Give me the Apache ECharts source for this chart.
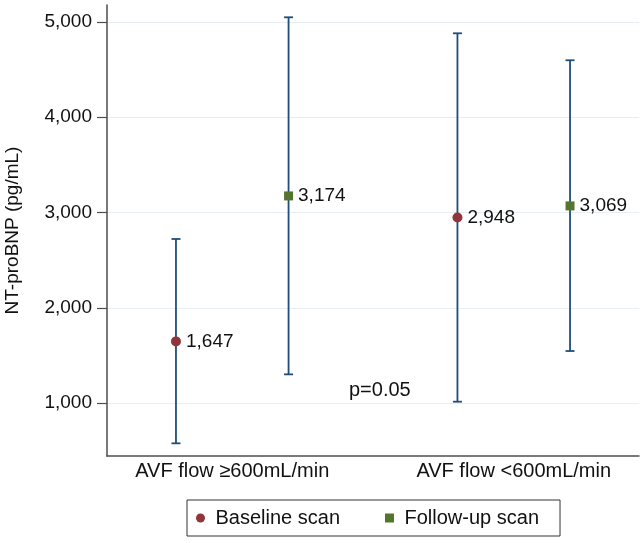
<!DOCTYPE html>
<html>
<head>
<meta charset="utf-8">
<script src="https://cdn.jsdelivr.net/npm/echarts@6/dist/echarts.min.js"></script>
<style>
  html, body { margin: 0; padding: 0; background: #fff; }
  #chart { width: 644px; height: 543px; }
</style>
</head>
<body>
<div id="chart"></div>
<script>
// groups on the x axis
let groups = ['AVF flow \u2265600mL/min', 'AVF flow <600mL/min'];
let yTicks = [1000, 2000, 3000, 4000, 5000];

// baseline scan: mean and 95% CI
let baseMean = [1647, 2948];
let baseLow = [577, 1014];
let baseHigh = [2722, 4881];

// follow-up scan: mean and 95% CI
let followMean = [3174, 3069];
let followLow = [1301, 1546];
let followHigh = [5049, 4598];

let pText = 'p=0.05';

let shift = 0.2; // side offset of each scan inside a group
let font = 'Liberation Sans, Arial, Helvetica, sans-serif';
let barColor = '#1f4e7a';

let fmt = v => Number(v).toLocaleString('en-US');

let makeErr = (lo, hi, off) => groups.map((g, i) => [i + off, lo[i], hi[i]]);
let makePts = (m, off) => groups.map((g, i) => [i + off, m[i]]);

let renderErr = function (params, api) {
  let x = api.value(0);
  let top = api.coord([x, api.value(2)]);
  let bot = api.coord([x, api.value(1)]);
  let cap = 4.5;
  let style = { stroke: barColor, lineWidth: 1.8 };
  return {
    type: 'group',
    children: [
      { type: 'line', shape: { x1: top[0], y1: top[1], x2: bot[0], y2: bot[1] }, style: style },
      { type: 'line', shape: { x1: top[0] - cap, y1: top[1], x2: top[0] + cap, y2: top[1] }, style: style },
      { type: 'line', shape: { x1: bot[0] - cap, y1: bot[1], x2: bot[0] + cap, y2: bot[1] }, style: style }
    ]
  };
};

let ptLabel = {
  show: true,
  position: 'right',
  distance: 5,
  fontSize: 19,
  fontFamily: font,
  color: '#111',
  formatter: p => fmt(p.value[1])
};

let chart = echarts.init(document.getElementById('chart'));
let option = {
  animation: false,
  backgroundColor: '#fff',
  textStyle: { fontFamily: font },
  grid: { left: 107, right: 5, top: 5, bottom: 87, containLabel: false, outerBoundsMode: 'none' },
  xAxis: {
    type: 'value',
    min: -0.445,
    max: 1.445,
    axisLine: { show: true, onZero: false, lineStyle: { color: '#4d4d4d', width: 1.5 } },
    axisTick: { show: false },
    splitLine: { show: false },
    axisLabel: {
      customValues: [0, 1],
      formatter: v => groups[Math.round(v)],
      fontSize: 20,
      fontFamily: font,
      color: '#111',
      margin: 5
    }
  },
  yAxis: {
    type: 'value',
    min: 444,
    max: 5178,
    name: 'NT-proBNP (pg/mL)',
    nameLocation: 'middle',
    nameRotate: 90,
    nameGap: 85,
    nameTextStyle: { fontSize: 19, fontFamily: font, color: '#111' },
    axisLine: { show: true, onZero: false, lineStyle: { color: '#4d4d4d', width: 1.5 } },
    axisTick: { show: true, length: 10, customValues: yTicks, lineStyle: { color: '#4d4d4d', width: 1.2 } },
    axisLabel: {
      customValues: yTicks,
      formatter: fmt,
      fontSize: 19,
      fontFamily: font,
      color: '#111',
      margin: 15
    },
    splitLine: { show: true, lineStyle: { color: '#e6eef2', width: 1 } }
  },
  legend: {
    left: 187,
    top: 500,
    orient: 'horizontal',
    borderColor: '#333',
    borderWidth: 1,
    borderRadius: 0,
    padding: [8, 21, 8, 9],
    itemWidth: 20,
    itemHeight: 9,
    itemGap: 45,
    symbolKeepAspect: true,
    textStyle: { fontSize: 20, fontFamily: font, color: '#111' },
    data: [
      { name: 'Baseline scan', icon: 'circle' },
      { name: 'Follow-up scan', icon: 'path://M0,0H1V1H0Z' }
    ]
  },
  graphic: [
    {
      type: 'text',
      left: 349,
      top: 380,
      style: { text: pText, fontSize: 20, fontFamily: font, fill: '#111' }
    }
  ],
  series: [
    {
      name: 'Baseline CI',
      type: 'custom',
      renderItem: renderErr,
      encode: { x: 0, y: [1, 2] },
      data: makeErr(baseLow, baseHigh, -shift),
      z: 2
    },
    {
      name: 'Follow-up CI',
      type: 'custom',
      renderItem: renderErr,
      encode: { x: 0, y: [1, 2] },
      data: makeErr(followLow, followHigh, shift),
      z: 2
    },
    {
      name: 'Baseline scan',
      type: 'scatter',
      symbol: 'circle',
      symbolSize: 10,
      itemStyle: { color: '#90353b', opacity: 1 },
      label: ptLabel,
      data: makePts(baseMean, -shift),
      z: 5
    },
    {
      name: 'Follow-up scan',
      type: 'scatter',
      symbol: 'rect',
      symbolSize: 9,
      itemStyle: { color: '#55752f', opacity: 1 },
      label: ptLabel,
      data: makePts(followMean, shift),
      z: 5
    }
  ]
};
option && chart.setOption(option);
</script>
</body>
</html>
